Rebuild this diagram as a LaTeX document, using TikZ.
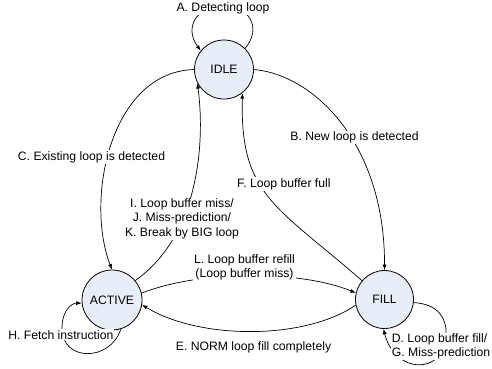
\documentclass[tikz,border=0pt]{standalone}
\usepackage{fontspec}
\setmainfont{Liberation Sans}
\usetikzlibrary{arrows.meta}
\definecolor{statefill}{RGB}{232,238,248}
\begin{document}
\begin{tikzpicture}[x=1pt,y=-1pt,
  every node/.style={font=\fontsize{12.2}{14.3}\selectfont},
  state/.style={circle,draw=black,line width=0.8pt,fill=statefill,inner sep=0pt},
  lbl/.style={fill=white,inner sep=1pt},
  trans/.style={draw=black,line width=0.7pt,-{Latex[length=5.5pt,width=4pt]}}]
\useasboundingbox (0,0) rectangle (492,368);

% states
\node[state,minimum size=59pt] (idle)   at (224,69.5)  {IDLE};
\node[state,minimum size=60pt] (active) at (112,300)   {ACTIVE};
\node[state,minimum size=58pt] (fill)   at (384.5,299.5) {FILL};

% transitions
\draw[trans] (idle.45) .. controls (262,28) and (250,6) .. (223,6)
  .. controls (196,6) and (184,28) .. (idle.141);
\draw[trans] (idle.east) .. controls (315,75) and (385,145) .. (fill.north);
\draw[trans] (idle.west) .. controls (110,72) and (85,200) .. (active.north);
\draw[trans] (active.40) .. controls (200,235) and (205,140) .. (idle.207);
\draw[trans] (fill.140) .. controls (275,205) and (240,195) .. (idle.-52);
\draw[trans] (active.13) .. controls (200,270) and (300,270) .. (fill.167);
\draw[trans] (fill.191) .. controls (305,340) and (200,340) .. (active.-9);
\draw[trans] (active.287) .. controls (110,362) and (62,362) .. (62,328)
  .. controls (62,310) and (72,303) .. (active.186);
\draw[trans] (fill.-6) .. controls (438,304) and (447,318) .. (446,335)
  .. controls (445,375) and (395,375) .. (fill.268);

% transition labels
\node[lbl,anchor=base] (lblA) at (223,11.7) {A. Detecting loop};
\node[lbl,anchor=base] (lblB) at (354.5,140.5) {B. New loop is detected};
\node[lbl,anchor=base] (lblC) at (91.5,160) {C. Existing loop is detected};
\node[lbl,anchor=base west] (lblF) at (236,187.3) {F. Loop buffer full};
\node[lbl,align=center] (lblIJK) at (182,218.6)
  {I. Loop buffer miss/\\J. Miss-prediction/\\K. Break by BIG loop};
\node[lbl,align=center] (lblL) at (244.5,267.3)
  {L. Loop buffer refill\\(Loop buffer miss)};
\node[lbl,anchor=base] (lblE) at (253.5,350.7) {E. NORM loop fill completely};
\node[lbl,anchor=base] (lblH) at (60.8,339) {H. Fetch instruction};
\node[lbl,align=left,anchor=west] (lblDG) at (390.7,346.4)
  {D. Loop buffer fill/\\G. Miss-prediction};
\end{tikzpicture}
\end{document}
